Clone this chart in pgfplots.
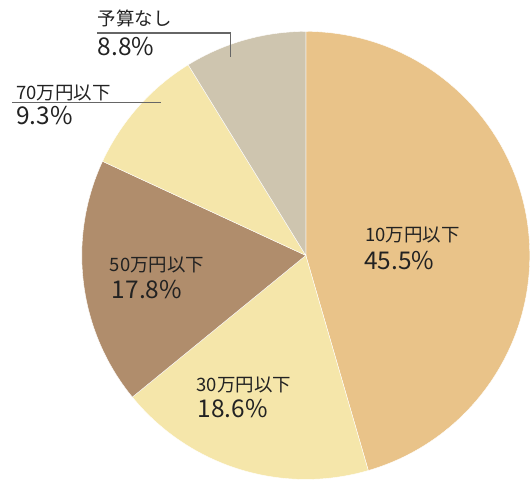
\documentclass[border=0pt]{standalone}
\usepackage{pgfplots}
\pgfplotsset{compat=1.18}
\usepackage{fontspec}
\setmainfont{Noto Sans CJK JP}
\definecolor{cA}{HTML}{E9C389}
\definecolor{cB}{HTML}{F5E6AA}
\definecolor{cC}{HTML}{B08D6C}
\definecolor{cD}{HTML}{F5E6AA}
\definecolor{cE}{HTML}{CEC5AF}
\definecolor{txt}{HTML}{222222}
\definecolor{ldr}{HTML}{666666}
\newcommand\lblsmall{\fontsize{18.5}{18.5}\selectfont}
\newcommand\lblbig{\fontsize{24.5}{24.5}\selectfont}
\begin{document}
\begin{tikzpicture}
% shares (percent), clockwise from 12 o'clock
\def\vA{45.5}\def\vB{18.6}\def\vC{17.8}\def\vD{9.3}\def\vE{8.8}
\pgfmathsetmacro\aO{90}
\pgfmathsetmacro\aA{\aO-\vA*3.6}
\pgfmathsetmacro\aB{\aA-\vB*3.6}
\pgfmathsetmacro\aC{\aB-\vC*3.6}
\pgfmathsetmacro\aD{\aC-\vD*3.6}
\pgfmathsetmacro\aE{\aD-\vE*3.6}
\def\R{224.5pt}
\begin{axis}[
  scale only axis, width=530pt, height=481pt,
  xmin=0, xmax=530, ymin=0, ymax=481,
  hide axis, clip=false,
]
\path (axis cs:0,0) rectangle (axis cs:530,481);
\fill[cA, draw=white, line width=0.4pt] (axis cs:306.5,225) -- ++(\aO:\R) arc[start angle=\aO, end angle=\aA, radius=\R] -- cycle;
\fill[cB, draw=white, line width=0.4pt] (axis cs:306.5,225) -- ++(\aA:\R) arc[start angle=\aA, end angle=\aB, radius=\R] -- cycle;
\fill[cC, draw=white, line width=0.4pt] (axis cs:306.5,225) -- ++(\aB:\R) arc[start angle=\aB, end angle=\aC, radius=\R] -- cycle;
\fill[cD, draw=white, line width=0.4pt] (axis cs:306.5,225) -- ++(\aC:\R) arc[start angle=\aC, end angle=\aD, radius=\R] -- cycle;
\fill[cE, draw=white, line width=0.4pt] (axis cs:306.5,225) -- ++(\aD:\R) arc[start angle=\aD, end angle=\aE, radius=\R] -- cycle;
% leader lines
\draw[ldr, line width=1.3pt] (axis cs:97,448) -- (axis cs:231,448) -- (axis cs:231,424);
\draw[ldr, line width=1.3pt] (axis cs:12,378) -- (axis cs:161,378);
% labels
\tikzset{lbl/.style={anchor=base west, inner sep=0pt, text=txt}}
\node[lbl] at (axis cs:366,239) {\lblsmall 10万円以下};
\node[lbl] at (axis cs:365,211) {\lblbig 45.5\%};
\node[lbl] at (axis cs:197,89) {\lblsmall 30万円以下};
\node[lbl] at (axis cs:198,63) {\lblbig 18.6\%};
\node[lbl] at (axis cs:110,209) {\lblsmall 50万円以下};
\node[lbl] at (axis cs:112,182) {\lblbig 17.8\%};
\node[lbl] at (axis cs:98,455) {\lblsmall 予算なし};
\node[lbl] at (axis cs:98,425) {\lblbig 8.8\%};
\node[lbl] at (axis cs:16,381) {\lblsmall 70万円以下};
\node[lbl] at (axis cs:16,356) {\lblbig 9.3\%};
\end{axis}
\end{tikzpicture}
\end{document}
